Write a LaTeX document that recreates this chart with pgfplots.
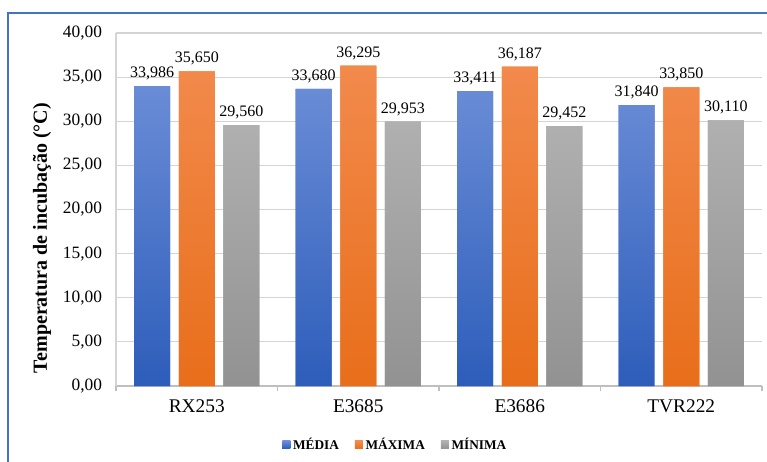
\documentclass[border=0pt]{standalone}
\usepackage{pgfplots}
\pgfplotsset{compat=1.18}
\usepackage{fontspec}
\setmainfont{Liberation Serif}

\definecolor{frameblue}{HTML}{4472C4}
\definecolor{gridgray}{HTML}{D4D4D4}
\definecolor{axisgray}{HTML}{BFBFBF}
\definecolor{blueT}{HTML}{6A8CD6}
\definecolor{blueB}{HTML}{2D5DBA}
\definecolor{orangeT}{HTML}{F28A4C}
\definecolor{orangeB}{HTML}{E86E1A}
\definecolor{grayT}{HTML}{B0B0B0}
\definecolor{grayB}{HTML}{929292}

% one pixel of the reference = 0.75pt
\begin{document}
\begin{tikzpicture}[font=\rmfamily]
\path[use as bounding box] (0,0) rectangle (575.25pt,345.75pt);
\draw[frameblue, line width=1.5pt] (6pt,-2pt) -- (6pt,336pt) -- (580pt,336pt);

\begin{axis}[
    at={(87pt,56.25pt)}, anchor=south west,
    scale only axis,
    width=484.5pt, height=264.75pt,
    ybar=6.5pt, bar width=27pt,
    xmin=-0.5, xmax=3.5,
    ymin=0, ymax=40,
    xtick={0,1,2,3},
    xticklabels={RX253,E3685,E3686,TVR222},
    ytick={0,5,...,40},
    axis x line*=bottom,
    axis y line*=left,
    x axis line style={axisgray, line width=0.9pt},
    y axis line style={gridgray, line width=0.9pt},
    ymajorgrids=true,
    major grid style={gridgray, line width=0.9pt},
    major tick length=0pt,
    extra x ticks={-0.5,0.5,1.5,2.5,3.5},
    extra x tick labels={},
    extra x tick style={major tick length=4pt, tick align=outside,
        tick style={axisgray, line width=0.9pt}},
    xticklabel style={font=\rmfamily\fontsize{14.5}{16}\selectfont, yshift=-7pt},
    yticklabel style={font=\rmfamily\fontsize{13}{15}\selectfont, xshift=-7pt},
    y tick label style={/pgf/number format/.cd, fixed, fixed zerofill,
        precision=2, use comma, assume math mode=true},
    nodes near coords,
    every node near coord/.append style={font=\rmfamily\fontsize{12}{14}\selectfont,
        yshift=1pt,
        /pgf/number format/.cd, fixed, fixed zerofill, precision=3,
        use comma, 1000 sep={}, assume math mode=true},
    legend style={at={(rel axis cs:0.433,-0.167)}, anchor=center,
        draw=none, legend columns=3,
        font=\rmfamily\bfseries\fontsize{10}{12}\selectfont,
        /tikz/every even column/.append style={column sep=10pt}},
    legend image code/.code={\fill[#1] (0pt,-2.8pt) rectangle (6pt,3pt);},
    clip=false,
]
\addplot[draw=none, top color=blueT, bottom color=blueB, fill=blueB]
    coordinates {(0,33.986) (1,33.680) (2,33.411) (3,31.840)};
\addplot[draw=none, top color=orangeT, bottom color=orangeB, fill=orangeB]
    coordinates {(0,35.650) (1,36.295) (2,36.187) (3,33.850)};
\addplot[draw=none, top color=grayT, bottom color=grayB, fill=grayB]
    coordinates {(0,29.560) (1,29.953) (2,29.452) (3,30.110)};
\legend{MÉDIA,MÁXIMA,MÍNIMA}
\end{axis}

\node[rotate=90, font=\rmfamily\bfseries\fontsize{15}{17}\selectfont] at (31.5pt,167.25pt)
    {Temperatura de incubação (°C)};
\end{tikzpicture}
\end{document}
